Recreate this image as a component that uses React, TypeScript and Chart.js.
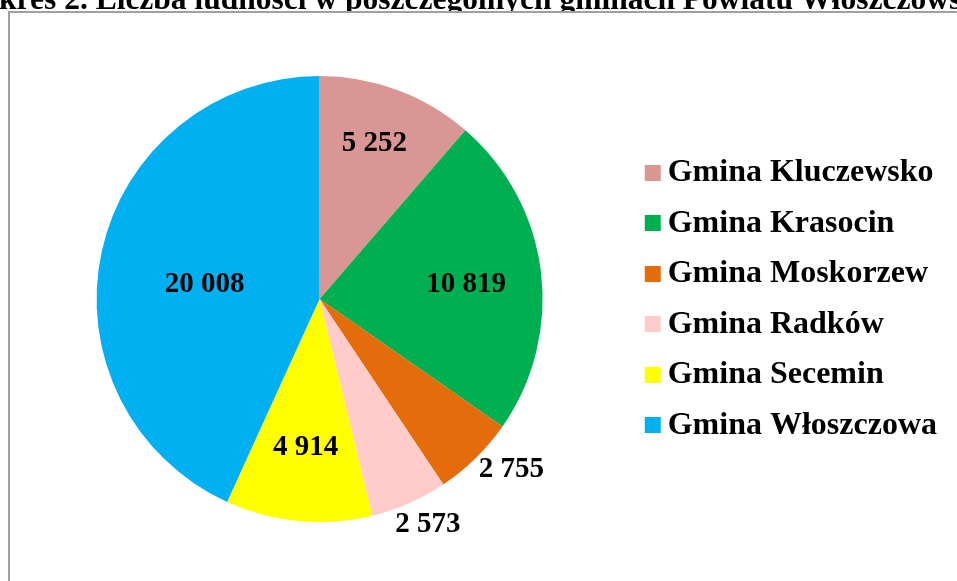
import React, { useEffect, useRef } from "react";
import { Chart, registerables } from "chart.js";

Chart.register(...registerables);

const TITLE = "Wykres 2. Liczba ludności w poszczególnych gminach Powiatu Włoszczowskiego";
const categories = [
  "Gmina Kluczewsko",
  "Gmina Krasocin",
  "Gmina Moskorzew",
  "Gmina Radków",
  "Gmina Secemin",
  "Gmina Włoszczowa",
];
const population = [5252, 10819, 2755, 2573, 4914, 20008];
const colors = ["#D99694", "#00B050", "#E46C0A", "#FFCCCC", "#FFFF00", "#00B0F0"];
// label placement: radial factor (of outer radius) and angular offset in degrees
const labelRadial = [0.74, 0.66, 1.15, 1.12, 0.67, 0.52];
const labelAngle = [-1, 1.5, -4, -2, 0, -5];

const FONT = "'Liberation Serif', 'Times New Roman', serif";

const fmt = (v: number) => String(v).replace(/\B(?=(\d{3})+(?!\d))/g, " ");

// legend swatch: 16x16 square drawn at the left part of a wider transparent image
function makeSwatch(color: string) {
  const c = document.createElement("canvas");
  c.width = 40;
  c.height = 16;
  const g = c.getContext("2d") as CanvasRenderingContext2D;
  g.fillStyle = color;
  g.fillRect(17, 0, 16, 16);
  return c;
}

const labelPlugin = {
  id: "sliceLabels",
  afterDatasetsDraw(chart: any) {
    const ctx = chart.ctx;
    const meta = chart.getDatasetMeta(0);
    ctx.save();
    ctx.font = `bold 29px ${FONT}`;
    ctx.fillStyle = "#000";
    ctx.textAlign = "center";
    ctx.textBaseline = "middle";
    meta.data.forEach((arc: any, i: number) => {
      const p = arc.getProps(["x", "y", "startAngle", "endAngle", "outerRadius"], true);
      const mid = (p.startAngle + p.endAngle) / 2 + (labelAngle[i] * Math.PI) / 180;
      const r = p.outerRadius * labelRadial[i];
      ctx.fillText(fmt(population[i]), p.x + Math.cos(mid) * r, p.y + Math.sin(mid) * r);
    });
    ctx.restore();
  },
};

export default function App() {
  const ref = useRef<HTMLCanvasElement | null>(null);
  useEffect(() => {
    document.body.style.overflow = "hidden";
    const swatches = colors.map(makeSwatch);
    const baseGen = (Chart as any).overrides.pie.plugins.legend.labels.generateLabels;
    const chart = new Chart(ref.current as HTMLCanvasElement, {
      type: "pie",
      data: {
        labels: categories,
        datasets: [
          {
            data: population,
            backgroundColor: colors,
            borderWidth: 0,
          },
        ],
      },
      options: {
        animation: false,
        responsive: false,
        maintainAspectRatio: false,
        layout: { padding: { top: 63, bottom: 59, left: 4, right: 10 } },
        plugins: {
          tooltip: { enabled: false },
          legend: {
            position: "right",
            labels: {
              color: "#000",
              usePointStyle: true,
              pointStyleWidth: 8,
              boxWidth: 16,
              boxHeight: 16,
              padding: 18.5,
              font: { family: FONT, size: 32, weight: "bold" },
              generateLabels: (ch: any) =>
                baseGen(ch).map((item: any, i: number) => ({
                  ...item,
                  pointStyle: swatches[i],
                })),
            },
          },
        },
      },
      plugins: [labelPlugin],
    });
    return () => chart.destroy();
  }, []);

  return (
    <div>
      <div
        style={{
          position: "fixed",
          left: -47,
          top: -17,
          whiteSpace: "nowrap",
          font: `bold 31.5px/31.5px ${FONT}`,
          color: "#000",
        }}
      >
        {TITLE}
      </div>
      <div
        style={{
          position: "absolute",
          left: 8,
          top: 11,
          width: 949,
          height: 570,
          borderLeft: "2px solid #a0a0a0",
          borderTop: "2px solid #a0a0a0",
          background: "#fff",
        }}
      >
        <canvas ref={ref} width={947} height={568} style={{ display: "block" }} />
      </div>
    </div>
  );
}
